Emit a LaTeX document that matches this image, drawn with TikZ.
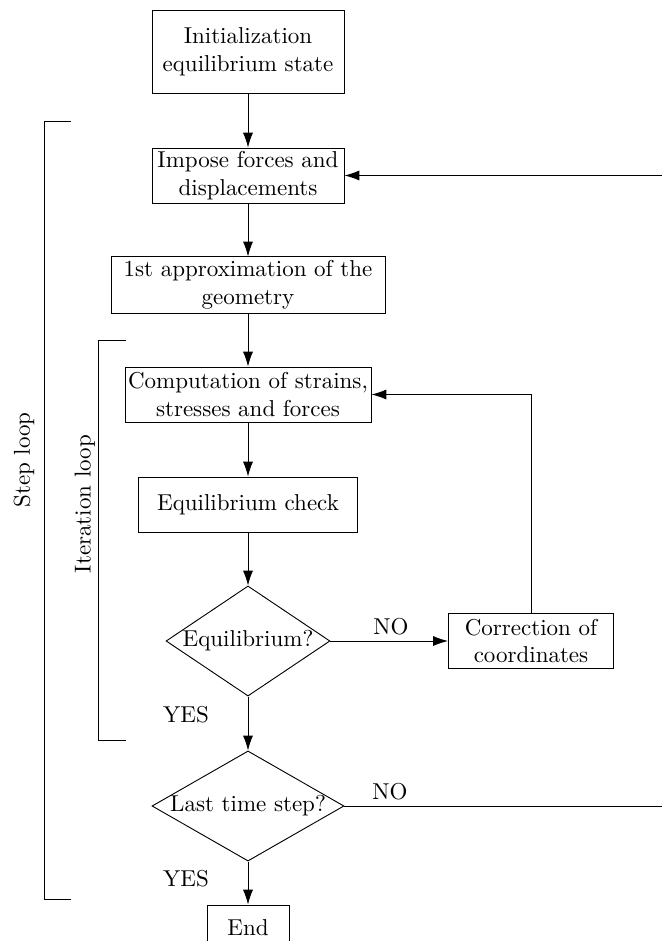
\documentclass[tikz,border=0pt]{standalone}
\usetikzlibrary{shapes.geometric,arrows.meta}

\begin{document}
\begin{tikzpicture}[x=0.435pt,y=-0.435pt]
        \tikzset{box/.style={draw,rectangle,align=center,inner sep=0pt,minimum height=23.9pt},
            decision/.style={draw,diamond,align=center,inner sep=0pt,minimum height=47.9pt},
            flow/.style={draw,-{Latex[length=6.5pt,width=4.4pt]}},
            loopline/.style={draw,line width=0.4pt},
            answer/.style={inner sep=0pt}}
        \useasboundingbox (0,0) rectangle (662,941);
        % main column
        \node[box,minimum width=83.5pt,minimum height=35.7pt] (init) at (248,52) {Initialization\\equilibrium state};
        \node[box,minimum width=83.5pt] (impose) at (248,175.5) {Impose forces and\\displacements};
        \node[box,minimum width=119.2pt,minimum height=24.4pt] (approx) at (248,285) {1st approximation of the\\geometry};
        \node[box,minimum width=107pt] (comp) at (248,394.5) {Computation of strains,\\stresses and forces};
        \node[box,minimum width=95.3pt] (check) at (248,504.5) {Equilibrium check};
        \node[decision,minimum width=71.3pt,aspect=1.49] (equi) at (248,641) {Equilibrium?};
        \node[box,minimum width=71.8pt] (corr) at (531,641) {Correction of\\coordinates};
        \node[decision,minimum width=83.5pt,aspect=1.75] (last) at (248,806) {Last time step?};
        \node[box,minimum width=35.7pt,minimum height=20pt] (end) at (248,928) {End};
        \coordinate (stepin) at (662,175.5);
        \coordinate (stepout) at (662,806);
        % connectors
        \draw[flow] (init) -- (impose);
        \draw[flow] (impose) -- (approx);
        \draw[flow] (approx) -- (comp);
        \draw[flow] (comp) -- (check);
        \draw[flow] (check) -- (equi);
        \draw[flow] (equi) -- (last);
        \draw[flow] (last) -- (end);
        \draw[flow] (equi) -- (corr);
        \draw[flow] (corr.north) |- (comp.east);
        \draw[flow] (stepin) -- (impose.east);
        \draw (last.east) -- (stepout);
        % answers
        \node[answer] (no1) at (391,627) {NO};
        \node[answer] (no2) at (390,792) {NO};
        \node[answer] (yes1) at (186,715) {YES};
        \node[answer] (yes2) at (186,879) {YES};
        % loop brackets
        \draw[loopline] (71,121) -- (44,121) -- (44,899) -- (71,899);
        \draw[loopline] (126,340) -- (98,340) -- (98,740) -- (126,740);
        \node[rotate=90] (steplabel) at (24,460) {Step loop};
        \node[rotate=90] (iterlabel) at (85,504) {Iteration loop};
\end{tikzpicture}
\end{document}
